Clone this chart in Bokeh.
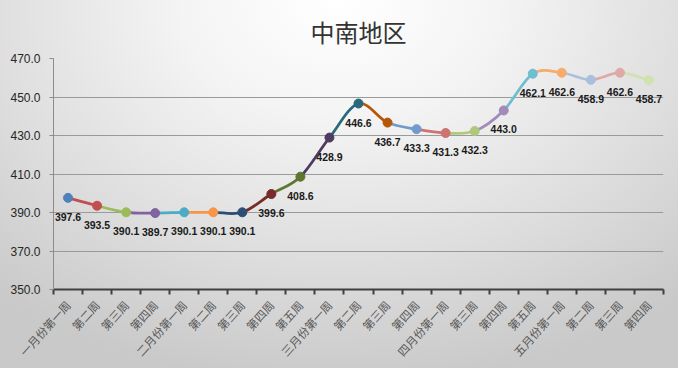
import numpy as np
from bokeh.plotting import figure
from bokeh.models import FixedTicker, ColumnDataSource, Range1d, NumeralTickFormatter
from bokeh.embed import file_html
from bokeh.resources import INLINE
from bokeh.core.properties import value

title = "中南地区"
weeks = ["一月份第一周", "第二周", "第三周", "第四周",
         "二月份第一周", "第二周", "第三周", "第四周", "第五周",
         "三月份第一周", "第二周", "第三周", "第四周",
         "四月份第一周", "第三周", "第四周", "第五周",
         "五月份第一周", "第二周", "第三周", "第四周"]
prices = [397.6, 393.5, 390.1, 389.7, 390.1, 390.1, 390.1, 399.6, 408.6,
          428.9, 446.6, 436.7, 433.3, 431.3, 432.3, 443.0, 462.1, 462.6,
          458.9, 462.6, 458.7]
point_colors = ["#4F81BD", "#C0504D", "#9BBB59", "#8064A2", "#4BACC6", "#F79646",
                "#2C4D75", "#772C2A", "#5F7530", "#4D3B62", "#276A7C", "#B65708",
                "#729ACA", "#CD7371", "#AFC97A", "#A18BBA", "#6FBDD1", "#F9AB6B",
                "#A7C0DE", "#DFA9A8", "#D1E2AF"]
y_ticks = [350, 370, 390, 410, 430, 450, 470]

n = len(prices)
xs = np.arange(n) + 0.5
ys = np.array(prices, dtype=float)

# Catmull-Rom style smoothing (like Excel smoothed line) as cubic Beziers
seg = dict(x0=[], y0=[], x1=[], y1=[], cx0=[], cy0=[], cx1=[], cy1=[], color=[])
for i in range(n - 1):
    p0 = np.array([xs[max(i - 1, 0)], ys[max(i - 1, 0)]])
    p1 = np.array([xs[i], ys[i]])
    p2 = np.array([xs[i + 1], ys[i + 1]])
    p3 = np.array([xs[min(i + 2, n - 1)], ys[min(i + 2, n - 1)]])
    c1 = p1 + (p2 - p0) / 6.0
    c2 = p2 - (p3 - p1) / 6.0
    seg["x0"].append(p1[0]); seg["y0"].append(p1[1])
    seg["x1"].append(p2[0]); seg["y1"].append(p2[1])
    seg["cx0"].append(c1[0]); seg["cy0"].append(c1[1])
    seg["cx1"].append(c2[0]); seg["cy1"].append(c2[1])
    seg["color"].append(point_colors[i + 1])
seg_src = ColumnDataSource(seg)

pts = ColumnDataSource(dict(x=xs, y=ys, color=point_colors,
                            label=[f"{v:.1f}" for v in prices]))

p = figure(width=678, height=368, output_backend="svg", toolbar_location=None,
           x_range=Range1d(0, n), y_range=Range1d(350, 470),
           min_border_left=53, min_border_right=15, min_border_top=58,
           min_border_bottom=79)

p.styles = {"background": "radial-gradient(ellipse 78% 105% at 50% 0%, #ffffff 0%, #f4f4f4 30%, #dcdcdc 70%, #c9c9c9 100%)"}
p.border_fill_alpha = 0
p.background_fill_alpha = 0
p.outline_line_color = None

p.title.text = title
p.title.align = "center"
p.title.vertical_align = "top"
p.title.text_font = "Noto Sans CJK SC"
p.title.text_font_size = "24px"
p.title.text_font_style = "normal"
p.title.text_color = "#333333"
p.title.standoff = 15

p.bezier(x0="x0", y0="y0", x1="x1", y1="y1", cx0="cx0", cy0="cy0",
         cx1="cx1", cy1="cy1", line_color="color", line_width=2.75, source=seg_src)
p.scatter("x", "y", size=9, fill_color="color", line_color="color", source=pts)
p.text("x", "y", text="label", source=pts, text_align="center",
       text_baseline="middle", y_offset=19, text_font=value("Liberation Sans"),
       text_font_size="10.5px", text_font_style="bold", text_color="#1a1a1a")

# x axis
p.xaxis.ticker = FixedTicker(ticks=list(xs), minor_ticks=list(range(n + 1)))
p.xaxis.major_label_overrides = {float(x): w for x, w in zip(xs, weeks)}
p.xaxis.major_label_orientation = 0.84
p.xaxis.major_tick_out = 0
p.xaxis.major_tick_in = 0
p.xaxis.minor_tick_out = 5
p.xaxis.minor_tick_in = 0
p.xaxis.minor_tick_line_color = "#404040"
p.xaxis.minor_tick_line_width = 2
p.xaxis.axis_line_color = "#404040"
p.xaxis.axis_line_width = 2
p.xaxis.major_label_standoff = 8
p.xaxis.major_label_text_font = "Noto Sans CJK SC"
p.xaxis.major_label_text_font_size = "11.5px"
p.xaxis.major_label_text_color = "#595959"

# y axis
p.yaxis.ticker = FixedTicker(ticks=y_ticks)
p.yaxis.formatter = NumeralTickFormatter(format="0.0")
p.yaxis.minor_tick_line_color = None
p.yaxis.major_tick_out = 4
p.yaxis.major_tick_in = 0
p.yaxis.axis_line_color = "#8c8c8c"
p.yaxis.major_tick_line_color = "#8c8c8c"
p.yaxis.major_label_standoff = 9
p.yaxis.major_label_text_font = "Liberation Sans"
p.yaxis.major_label_text_font_size = "12px"
p.yaxis.major_label_text_color = "#262626"

p.xgrid.grid_line_color = None
p.ygrid.ticker = FixedTicker(ticks=y_ticks)
p.ygrid.grid_line_color = "#9a9a9a"
p.ygrid.grid_line_width = 1

open("out.html", "w").write(file_html(p, INLINE))
